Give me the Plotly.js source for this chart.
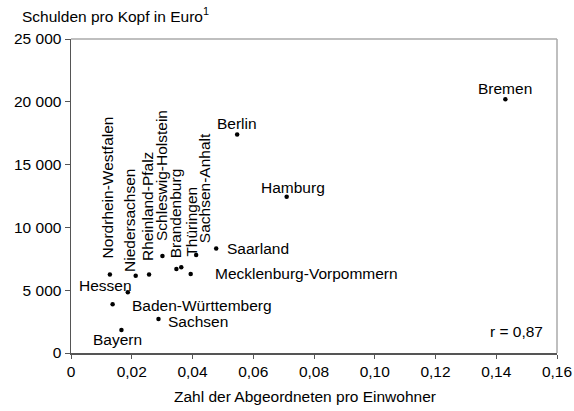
<!DOCTYPE html>
<html>
<head>
<meta charset="utf-8">
<script src="https://cdn.plot.ly/plotly-3.0.1.min.js"></script>
<style>html,body{margin:0;padding:0;background:#fff;}#chart{width:574px;height:411px;}</style>
</head>
<body>
<div id="chart"></div>
<script>
// Data
var states = ['Bremen','Berlin','Hamburg','Nordrhein-Westfalen','Hessen','Niedersachsen','Rheinland-Pfalz','Schleswig-Holstein','Brandenburg','Thüringen','Sachsen-Anhalt','Mecklenburg-Vorpommern','Saarland','Baden-Württemberg','Sachsen','Bayern'];
var abgeordneteProEinwohner = [0.143,0.0547,0.0710,0.0128,0.0187,0.0213,0.0257,0.0301,0.0347,0.0363,0.0412,0.0394,0.0478,0.0137,0.0288,0.0166];
var schuldenProKopf = [20200,17400,12450,6250,4830,6150,6250,7720,6690,6820,7800,6290,8330,3880,2710,1830];
var xTickVals = [0,0.02,0.04,0.06,0.08,0.10,0.12,0.14,0.16];
var xTickText = ['0','0,02','0,04','0,06','0,08','0,10','0,12','0,14','0,16'];
var yTickVals = [0,5000,10000,15000,20000,25000];
var yTickText = ['0','5 000','10 000','15 000','20 000','25 000'];
var correlationText = 'r = 0,87';

// Label placement (pixel offsets from each point)
var placement = {
  'Bremen':{xs:0,ys:11,xa:'center',ya:'middle',rot:0},
  'Berlin':{xs:0,ys:11,xa:'center',ya:'middle',rot:0},
  'Hamburg':{xs:6,ys:9,xa:'center',ya:'middle',rot:0},
  'Nordrhein-Westfalen':{xs:-2,ys:14,xa:'center',ya:'bottom',rot:-90},
  'Hessen':{xs:6,ys:7,xa:'right',ya:'middle',rot:0},
  'Niedersachsen':{xs:-6,ys:2,xa:'center',ya:'bottom',rot:-90},
  'Rheinland-Pfalz':{xs:-2,ys:11,xa:'center',ya:'bottom',rot:-90},
  'Schleswig-Holstein':{xs:-1,ys:13,xa:'center',ya:'bottom',rot:-90},
  'Brandenburg':{xs:0,ys:9,xa:'center',ya:'bottom',rot:-90},
  'Thüringen':{xs:10,ys:9,xa:'center',ya:'bottom',rot:-90},
  'Sachsen-Anhalt':{xs:8,ys:10,xa:'center',ya:'bottom',rot:-90},
  'Mecklenburg-Vorpommern':{xs:22,ys:1,xa:'left',ya:'middle',rot:0},
  'Saarland':{xs:9,ys:0,xa:'left',ya:'middle',rot:0},
  'Baden-Württemberg':{xs:17,ys:-1,xa:'left',ya:'middle',rot:0},
  'Sachsen':{xs:8,ys:-3,xa:'left',ya:'middle',rot:0},
  'Bayern':{xs:-4,ys:-9,xa:'center',ya:'middle',rot:0}
};

var FONT = 'Liberation Sans, Arial, Helvetica, sans-serif';
var FS = 15.5;

var annotations = states.map(function(s,i){
  var p = placement[s];
  return {x:abgeordneteProEinwohner[i], y:schuldenProKopf[i], xref:'x', yref:'y',
    text:s, showarrow:false, xanchor:p.xa, yanchor:p.ya, xshift:p.xs, yshift:p.ys,
    textangle:p.rot, font:{family:FONT,size:FS,color:'#000'}};
});
annotations.push({x:0.917, y:0.068, xref:'paper', yref:'paper', text:correlationText, showarrow:false,
  xanchor:'center', yanchor:'middle', font:{family:FONT,size:FS,color:'#000'}});
annotations.push({x:-0.105, y:1.076, xref:'paper', yref:'paper', text:'Schulden pro Kopf in Euro<sup>1</sup>', showarrow:false,
  xanchor:'left', yanchor:'middle', font:{family:FONT,size:FS,color:'#000'}});
annotations.push({x:0.482, y:-0.14, xref:'paper', yref:'paper', text:'Zahl der Abgeordneten pro Einwohner', showarrow:false,
  xanchor:'center', yanchor:'middle', font:{family:FONT,size:FS,color:'#000'}});

var trace = {x:abgeordneteProEinwohner, y:schuldenProKopf, mode:'markers', type:'scatter',
  marker:{size:4.5,color:'#000'}, hoverinfo:'skip', cliponaxis:false};

var layout = {
  width:574, height:411,
  margin:{l:71,r:17,t:39,b:58,pad:0},
  paper_bgcolor:'#fff', plot_bgcolor:'#fff',
  showlegend:false,
  font:{family:FONT,size:FS,color:'#000'},
  xaxis:{range:[0,0.16], tickvals:xTickVals, ticktext:xTickText, showgrid:false, zeroline:false,
    showline:true, linecolor:'#555', linewidth:1.5, ticks:'outside', ticklen:4, tickcolor:'#555', tickwidth:1,
    tickfont:{family:FONT,size:FS,color:'#000'}, fixedrange:true},
  yaxis:{range:[0,25000], tickvals:yTickVals, ticktext:yTickText, showgrid:false, zeroline:false,
    showline:true, linecolor:'#555', linewidth:1.5, ticks:'outside', ticklen:5, tickcolor:'#555', tickwidth:1,
    tickfont:{family:FONT,size:FS,color:'#000'}, fixedrange:true},
  shapes:[
    {type:'line', xref:'paper', yref:'paper', x0:0, x1:1, y0:1, y1:1, line:{color:'#aaa', width:1.5}},
    {type:'line', xref:'paper', yref:'paper', x0:1, x1:1, y0:0, y1:1, line:{color:'#aaa', width:1.5}}
  ],
  annotations:annotations
};

Plotly.newPlot('chart',[trace],layout,{staticPlot:true,displayModeBar:false});
</script>
</body>
</html>
